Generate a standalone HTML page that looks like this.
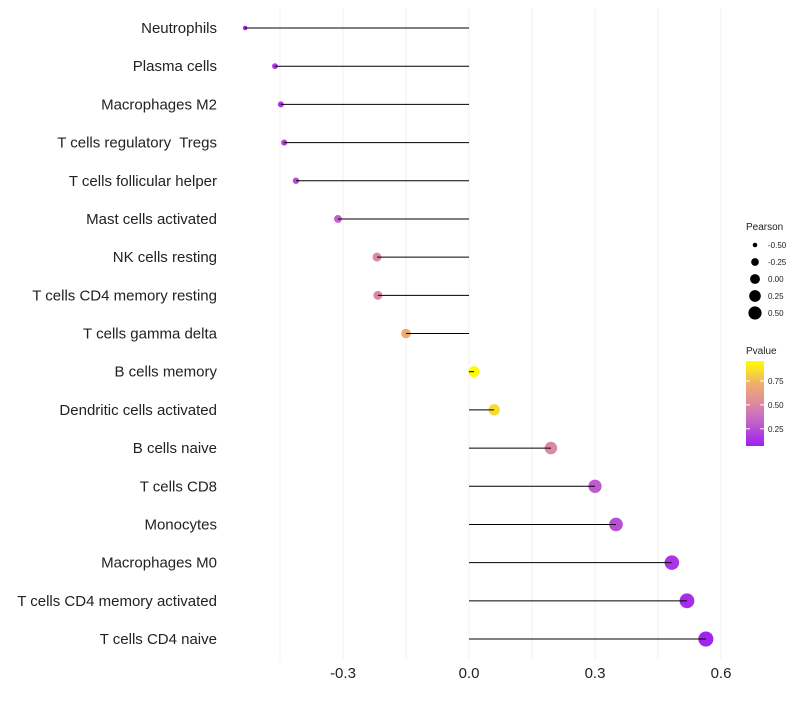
<!DOCTYPE html>
<html><head><meta charset="utf-8"><style>
body{margin:0;background:#fff;font-family:"Liberation Sans",sans-serif}
text{white-space:pre}
</style></head><body>
<svg id="c" width="800" height="700" xmlns="http://www.w3.org/2000/svg"></svg>
<script>
const categories=["Neutrophils","Plasma cells","Macrophages M2","T cells regulatory  Tregs","T cells follicular helper","Mast cells activated","NK cells resting","T cells CD4 memory resting","T cells gamma delta","B cells memory","Dendritic cells activated","B cells naive","T cells CD8","Monocytes","Macrophages M0","T cells CD4 memory activated","T cells CD4 naive"];
const pearson=[-0.533,-0.462,-0.448,-0.44,-0.412,-0.312,-0.219,-0.217,-0.15,0.012,0.06,0.195,0.3,0.35,0.483,0.519,0.564];
const pvalue=[0.07,0.15,0.15,0.2,0.25,0.32,0.5,0.5,0.7,0.95,0.85,0.5,0.3,0.25,0.15,0.12,0.08];
const xTicks=[-0.3,0,0.3,0.6];
const xTickLabels=["-0.3","0.0","0.3","0.6"];
const sizeLegend=[-0.5,-0.25,0,0.25,0.5];
const sizeLabels=["-0.50","-0.25","0.00","0.25","0.50"];
const pTicks=[0.75,0.5,0.25];

const svg=document.getElementById('c');const NS="http://www.w3.org/2000/svg";
function mk(t,a,p){const e=document.createElementNS(NS,t);for(const k in a)e.setAttribute(k,a[k]);(p||svg).appendChild(e);return e;}
const X=v=>469+v*420;
const Y=i=>28+i*(639-28)/(categories.length-1);
const R=v=>Math.sqrt(Math.max(2,30+47*v));
const stops=[[0,[160,32,240]],[0.3,[196,100,200]],[0.5,[222,138,160]],[0.72,[238,172,112]],[1,[255,255,0]]];
function col(p){let t=Math.max(0,Math.min(1,(p-0.07)/(0.958-0.07)));
 for(let k=0;k<stops.length-1;k++){const a=stops[k],b=stops[k+1];if(t<=b[0]){const u=(t-a[0])/(b[0]-a[0]);
 return `rgb(${a[1].map((x,i)=>Math.round(x+(b[1][i]-x)*u))})`;}}return 'rgb(255,255,0)';}
[-0.45,-0.15,0.15,0.45,-0.3,0,0.3,0.6].forEach(v=>{const l=mk('line',{x1:X(v),x2:X(v),y1:8,y2:660,stroke:'#f0f0f0','stroke-width':1});
});
xTicks.forEach((v,i)=>{const t=mk('text',{x:X(v),y:678,'text-anchor':'middle','font-size':15,fill:'#222'});t.textContent=xTickLabels[i];
});
categories.forEach((c,i)=>{
 const t=mk('text',{x:217,y:Y(i)+5,'text-anchor':'end','font-size':15,fill:'#222'});t.textContent=c;
 
 const d=mk('circle',{cx:X(pearson[i]),cy:Y(i),r:R(pearson[i]),fill:col(pvalue[i])});
 
 const l=mk('line',{x1:X(0),x2:X(pearson[i]),y1:Y(i),y2:Y(i),stroke:'#000','stroke-width':1});
 
});
let t=mk('text',{x:746,y:230,'font-size':10,fill:'#222'});t.textContent='Pearson';

sizeLegend.forEach((v,i)=>{const y=245+i*17;
 const c=mk('circle',{cx:755,cy:y,r:R(v)*0.9,fill:'#000'});
 const s=mk('text',{x:768,y:y+3,'font-size':8,fill:'#222'});s.textContent=sizeLabels[i];
 });
t=mk('text',{x:746,y:354,'font-size':10,fill:'#222'});t.textContent='Pvalue';

const defs=mk('defs',{});const g=mk('linearGradient',{id:'pg',x1:0,y1:1,x2:0,y2:0},defs);
stops.forEach(s=>mk('stop',{offset:s[0],'stop-color':`rgb(${s[1]})`},g));
const bar=mk('rect',{x:746,y:361,width:18,height:85,fill:'url(#pg)'});

pTicks.forEach(p=>{const y=446-(p-0.07)/(0.958-0.07)*85;
 const s=mk('text',{x:768,y:y+3,'font-size':8,fill:'#222'});s.textContent=p.toFixed(2);
 
 const l1=mk('line',{x1:746,x2:750,y1:y,y2:y,stroke:'#fff','stroke-width':1});
 const l2=mk('line',{x1:760,x2:764,y1:y,y2:y,stroke:'#fff','stroke-width':1});});
</script>
</body></html>
